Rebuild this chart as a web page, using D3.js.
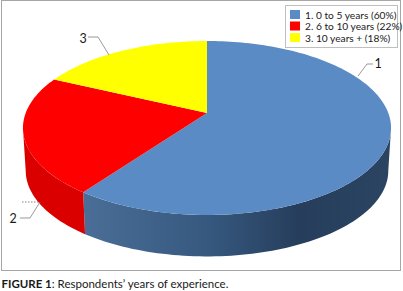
<!DOCTYPE html>
<html>
<head>
<meta charset="utf-8">
<script src="https://cdn.jsdelivr.net/npm/d3@7"></script>
<style>
  html, body { margin: 0; padding: 0; background: #fff; }
  svg { display: block; }
  text { font-family: Lato, "Open Sans", sans-serif; fill: #1a1a1a; }
</style>
</head>
<body>
<svg id="chart" width="403" height="291"></svg>
<script>
const categories = ['1. 0 to 5 years (60%)', '2. 6 to 10 years (22%)', '3. 10 years + (18%)'];
const values = [60, 22, 18];
const sliceLabels = ['1', '2', '3'];
const colours = ['#5b8bc5', '#ff0000', '#ffff00'];
const wallColours = ['url(#blueWall)', '#da0000', '#c8c800'];

// Pie projection: apex is the pie centre, the near edge is drawn larger than the far one.
const apex = { x: 207, y: 113 };
const persp = -0.172;
const scaleX = d3.scaleLinear().domain([-1, 1]).range([-181.3, 181.3]);
const scaleY = d3.scaleLinear().domain([-1, 1]).range([-84.4, 84.4]);
const wall = { depth: 43, shrink: 0.985 };

// Only the part of the rim between the two widest points faces the viewer.
const frontStart = Math.acos(persp);
const frontEnd = 2 * Math.PI - frontStart;

function project(angle, dy, k) {
  const u = Math.sin(angle);
  const v = -Math.cos(angle);
  const w = 1 + persp * v;
  return [apex.x + (scaleX(u) * k) / w, apex.y + (scaleY(v) * k) / w + dy];
}

function arcPoints(start, end, dy, k) {
  const steps = Math.max(2, Math.ceil((end - start) * 40));
  return d3.range(steps + 1).map((i) => project(start + ((end - start) * i) / steps, dy, k));
}

const line = d3.line();
const slices = d3.pie().sort(null)(values);
const svg = d3.select('#chart');

const defs = svg.append('defs');
const grad = defs.append('linearGradient')
  .attr('id', 'blueWall')
  .attr('gradientUnits', 'userSpaceOnUse')
  .attr('x1', 82).attr('x2', 390)
  .attr('y1', 0).attr('y2', 0);
grad.append('stop').attr('offset', '0%').attr('stop-color', '#4a6e97');
grad.append('stop').attr('offset', '40%').attr('stop-color', '#375980');
grad.append('stop').attr('offset', '70%').attr('stop-color', '#263e5c');
grad.append('stop').attr('offset', '100%').attr('stop-color', '#2a4462');

// Chart frame
svg.append('rect')
  .attr('x', 1.5).attr('y', 0.5)
  .attr('width', 399).attr('height', 270)
  .attr('fill', '#fff')
  .attr('stroke', '#a6a6a6');

// Side walls first, top faces cover whatever is hidden.
svg.append('g').selectAll('path')
  .data(slices.filter((d) => d.startAngle < frontEnd && d.endAngle > frontStart))
  .join('path')
  .attr('d', (d) => {
    const start = Math.max(d.startAngle, frontStart);
    const end = Math.min(d.endAngle, frontEnd);
    const top = arcPoints(start, end, 0, 1);
    const bottom = arcPoints(start, end, wall.depth, wall.shrink).reverse();
    return `${line(top.concat(bottom))}Z`;
  })
  .attr('fill', (d) => wallColours[d.index]);

svg.append('g').selectAll('path')
  .data(slices)
  .join('path')
  .attr('d', (d) => `${line([[apex.x, apex.y]].concat(arcPoints(d.startAngle, d.endAngle, 0, 1)))}Z`)
  .attr('fill', (d) => colours[d.index]);

// Leader lines, one polyline per slice label.
const leaders = [
  { text: sliceLabels[0], at: [378, 68], points: [[358, 76], [367, 64], [373, 64]] },
  { text: sliceLabels[1], at: [13, 223], points: [[20, 218], [30, 218], [40, 202]] },
  { text: sliceLabels[2], at: [83, 43], points: [[88, 37], [98, 37], [109, 55]] },
];
svg.append('g').selectAll('path')
  .data(leaders)
  .join('path')
  .attr('d', (d) => line(d.points))
  .attr('fill', 'none')
  .attr('stroke', '#7f7f7f')
  .attr('stroke-width', 0.8);
svg.append('line')
  .attr('x1', 22).attr('x2', 40)
  .attr('y1', 202).attr('y2', 202)
  .attr('stroke', '#555')
  .attr('stroke-width', 0.7)
  .attr('stroke-dasharray', '1.5 1.5');
svg.append('g').selectAll('text')
  .data(leaders)
  .join('text')
  .attr('x', (d) => d.at[0])
  .attr('y', (d) => d.at[1])
  .attr('text-anchor', 'middle')
  .attr('font-size', 12.5)
  .text((d) => d.text);

// Legend
const legend = svg.append('g');
legend.append('rect')
  .attr('x', 285.5).attr('y', 5.5)
  .attr('width', 112).attr('height', 42)
  .attr('fill', '#fff')
  .attr('stroke', '#bfbfbf');
const legendY = d3.scalePoint().domain(categories).range([15, 38]);
legend.selectAll('rect.key')
  .data(categories)
  .join('rect')
  .attr('class', 'key')
  .attr('x', 290)
  .attr('y', (d) => legendY(d) - 5)
  .attr('width', 10)
  .attr('height', 9)
  .attr('fill', (d, i) => colours[i]);
legend.selectAll('text.name')
  .data(categories)
  .join('text')
  .attr('class', 'name')
  .attr('x', 305)
  .attr('y', (d) => legendY(d) + 3.5)
  .attr('font-size', 10.2)
  .text((d) => d);

// Caption
const caption = svg.append('text').attr('x', 1.5).attr('y', 288).attr('font-size', 11.5);
caption.append('tspan').attr('font-weight', 700).text('FIGURE 1');
caption.append('tspan').text(': Respondents’ years of experience.');
</script>
</body>
</html>
